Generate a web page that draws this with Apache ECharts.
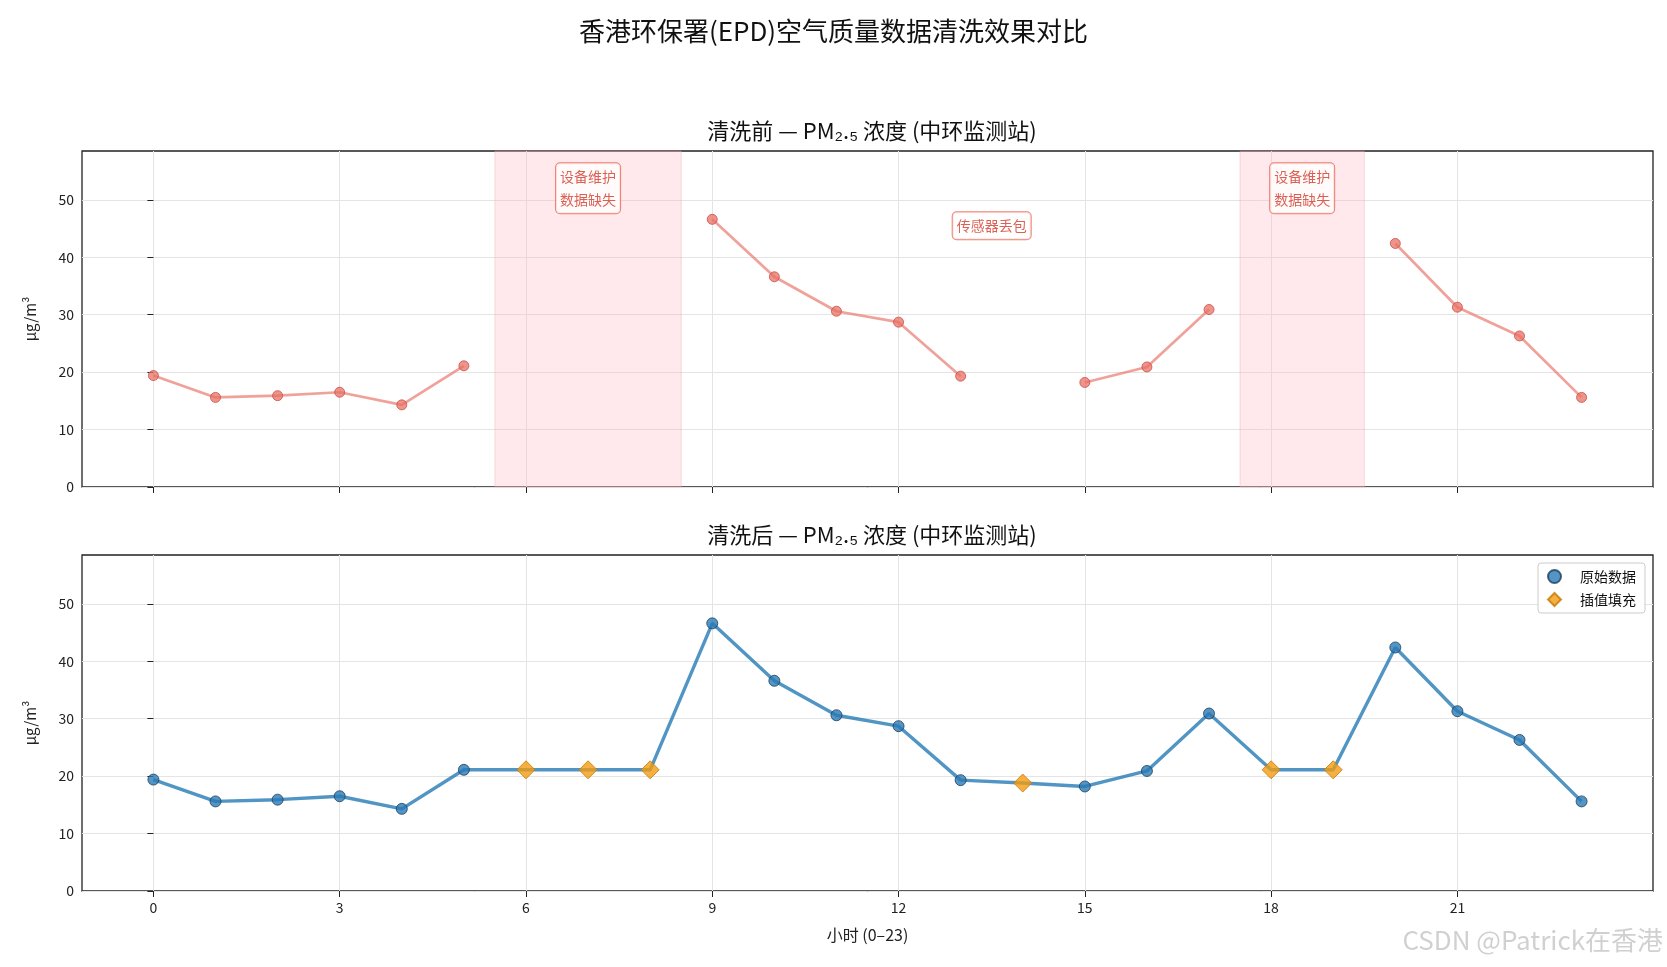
<!DOCTYPE html>
<html><head><meta charset="utf-8">
<script src="https://cdn.jsdelivr.net/npm/echarts@6/dist/echarts.min.js"></script>
<style>html,body{margin:0;padding:0;background:#fff}#c{width:1667px;height:967px}</style>
</head><body><div id="c"></div>
<script>
const hours = Array.from({length:24},(_,i)=>i);
const rawPM = [19.4,15.6,15.9,16.5,14.3,21.1,null,null,null,46.6,36.6,30.6,28.7,19.3,null,18.2,20.9,30.9,null,null,42.4,31.3,26.3,15.6];
const interpHours = [6,7,8,14,18,19];
const interpVals = [21.1,21.1,21.1,18.8,21.1,21.1];
const gaps = [[5.5,8.5],[17.5,19.5]];
const notes = [[7,52,'设备维护\n数据缺失'],[18.5,52,'设备维护\n数据缺失'],[13.5,45.5,'传感器丢包']];
const xTicks = [0,3,6,9,12,15,18,21];

const cleaned = rawPM.map((v,i)=>{ if(v!==null) return v; return interpVals[interpHours.indexOf(i)]; });
const F = '"Noto Sans CJK SC", sans-serif';
const chart = echarts.init(document.getElementById('c'));
const xAx = (gi, showLabel) => ({type:'value', gridIndex:gi, min:-1.15, max:24.15, interval:3,
  axisLine:{show:false}, axisTick:{show:true, length:6, lineStyle:{color:'#222'}, customValues:xTicks},
  axisLabel:{show:showLabel, color:'#222', fontSize:14, fontFamily:F, margin:10, customValues:xTicks},
  splitLine:{show:true, lineStyle:{color:'#e4e4e4'}},
  name: showLabel?'小时 (0–23)':'', nameLocation:'middle', nameGap:36, nameTextStyle:{color:'#222',fontSize:16,fontFamily:F}});
const yAx = (gi) => ({type:'value', gridIndex:gi, min:0, max:58.5, interval:10,
  axisLine:{show:false}, axisTick:{show:true,length:6,lineStyle:{color:'#222'},customValues:[0,10,20,30,40,50]},
  axisLabel:{color:'#222', fontSize:14, fontFamily:F, customValues:[0,10,20,30,40,50]},
  splitLine:{lineStyle:{color:'#e4e4e4'}},
  name:'μg/m³', nameLocation:'middle', nameGap:44, nameTextStyle:{color:'#222',fontSize:15,fontFamily:F}});
const hourPairs = (arr)=>arr.map((v,i)=>[i,v]);
chart.setOption({
  animation:false,
  title:[
    {text:'香港环保署(EPD)空气质量数据清洗效果对比', left:'center', top:13, textStyle:{fontSize:26,fontWeight:'normal',color:'#111',fontFamily:F}},
    {text:'清洗前 — PM₂.₅ 浓度 (中环监测站)', left:867, textAlign:'center', top:115, textStyle:{fontSize:22,fontWeight:'normal',color:'#111',fontFamily:F}},
    {text:'清洗后 — PM₂.₅ 浓度 (中环监测站)', left:867, textAlign:'center', top:519, textStyle:{fontSize:22,fontWeight:'normal',color:'#111',fontFamily:F}}
  ],
  grid:[{left:82,right:14,top:151,height:336,show:true,borderColor:'#222',borderWidth:1.3},
        {left:82,right:14,top:555,height:336,show:true,borderColor:'#222',borderWidth:1.3}],
  xAxis:[xAx(0,false), xAx(1,true)],
  yAxis:[yAx(0), yAx(1)],
  legend:{data:[{name:'原始数据',icon:'circle'},{name:'插值填充',icon:'diamond'}], orient:'vertical', right:22, top:563,
    itemWidth:13,itemHeight:13, itemGap:8, backgroundColor:'#fff', borderColor:'#ccc', borderWidth:1, borderRadius:3, padding:[6,9],
    textStyle:{fontSize:14,fontFamily:F,color:'#111',padding:[0,0,0,14]}},
  series:[
    {type:'line', xAxisIndex:0, yAxisIndex:0, data:hourPairs(rawPM), connectNulls:false,
     lineStyle:{color:'rgba(232,112,100,0.65)',width:2.7}, symbol:'circle', symbolSize:10,
     itemStyle:{color:'rgba(232,112,100,0.75)', borderColor:'rgba(200,80,70,0.8)', borderWidth:1},
     markArea:{silent:true, itemStyle:{color:'rgba(255,182,193,0.3)', borderColor:'rgba(240,150,160,0.35)', borderWidth:1},
       data:gaps.map(g=>[{xAxis:g[0]},{xAxis:g[1]}])}},
    {type:'scatter', xAxisIndex:0, yAxisIndex:0, symbolSize:0, data:notes.map(n=>[n[0],n[1],n[2]]),
     label:{show:true, formatter:p=>p.data[2], color:'#d23a2a', fontSize:14, fontFamily:F, lineHeight:23,
       backgroundColor:'#fff', borderColor:'#e8604f', borderWidth:1, borderRadius:4, padding:[2,4]}},
    {type:'line', xAxisIndex:1, yAxisIndex:1, data:hourPairs(cleaned), symbol:'none',
     lineStyle:{color:'rgba(31,119,180,0.78)',width:3.4}, z:2},
    {name:'原始数据', type:'scatter', xAxisIndex:1, yAxisIndex:1, data:hourPairs(rawPM).filter(p=>p[1]!==null),
     symbol:'circle', symbolSize:11, itemStyle:{color:'#2a7ab5', borderColor:'#1d3f5e', borderWidth:1}, z:3},
    {name:'插值填充', type:'scatter', xAxisIndex:1, yAxisIndex:1, data:interpHours.map((h,i)=>[h,interpVals[i]]),
     symbol:'diamond', symbolSize:18, itemStyle:{color:'#f39c12', borderColor:'#c67a00', borderWidth:1}, z:3}
  ],
  graphic:[{type:'text', right:4, bottom:14, style:{text:'CSDN @Patrick在香港', fontSize:26, fill:'rgba(150,150,150,0.45)', fontFamily:F}}]
});
</script></body></html>
